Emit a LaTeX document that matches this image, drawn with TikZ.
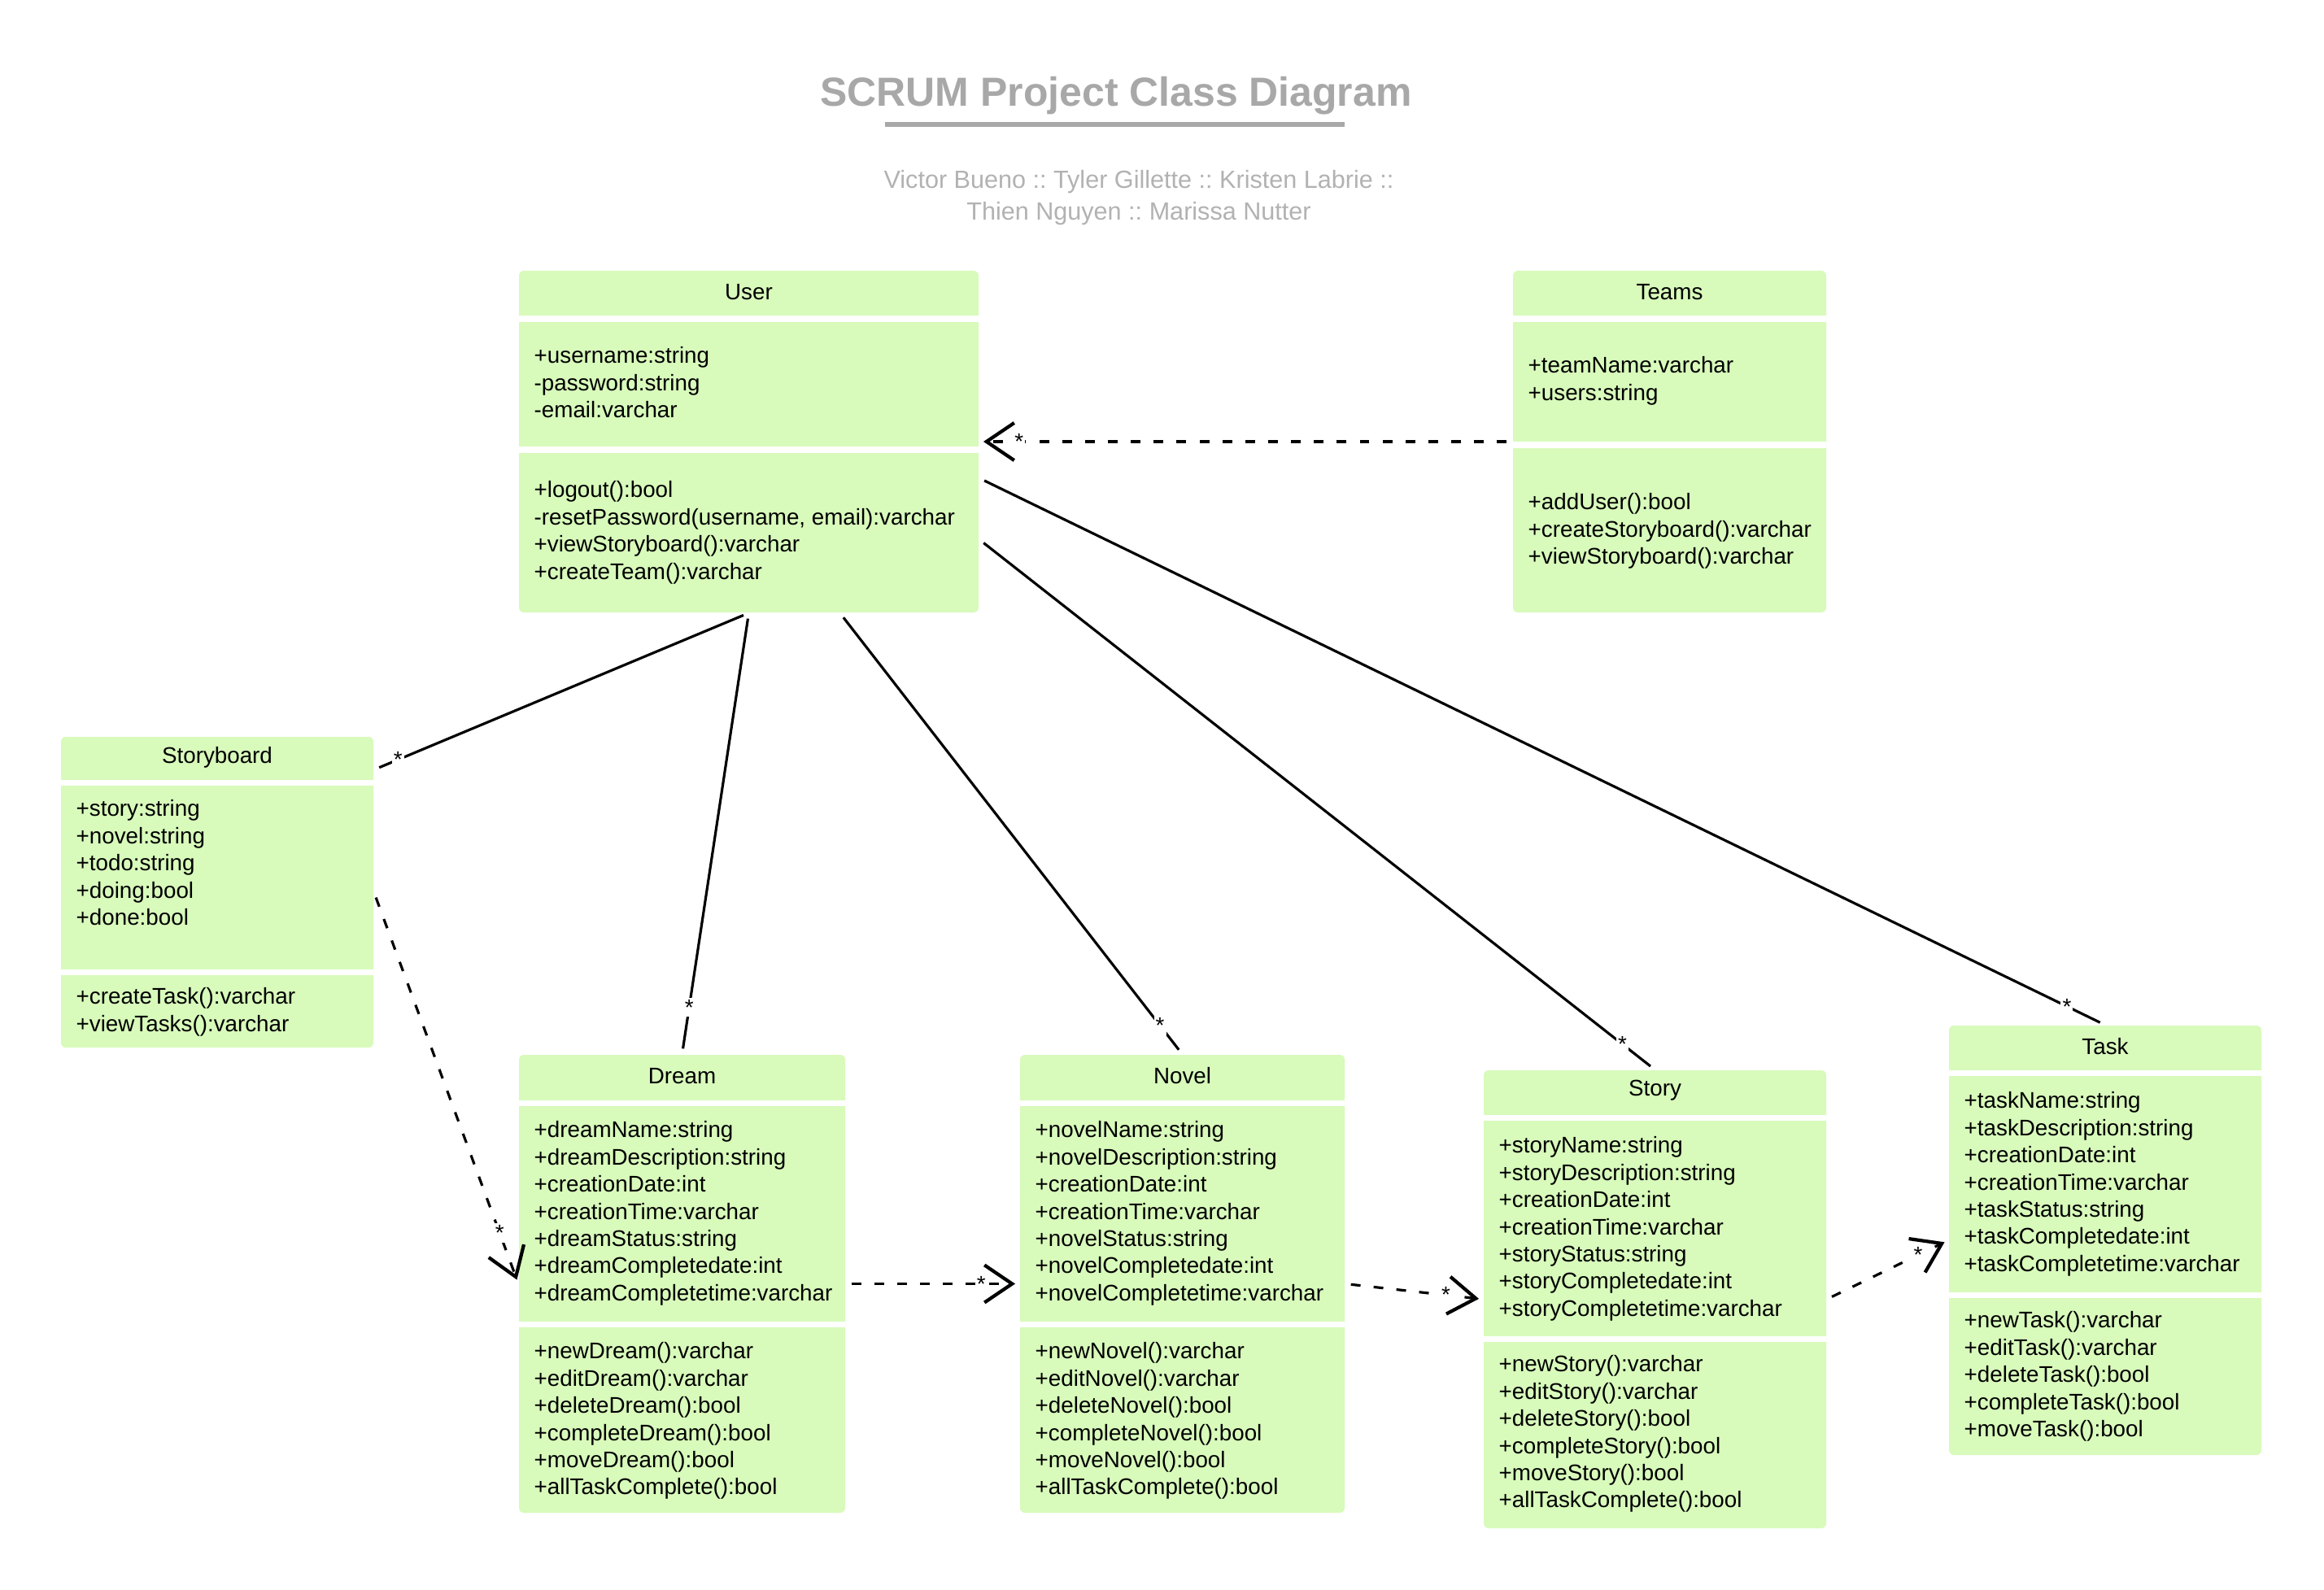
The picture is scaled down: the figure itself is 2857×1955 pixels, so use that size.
\documentclass[tikz,border=0pt]{standalone}
\usepackage{fontspec}
\setmainfont{Liberation Sans}
\usepackage{xcolor}
\usepackage{tikz}
\usetikzlibrary{arrows.meta, fit, calc}

\definecolor{boxgreen}{RGB}{216,250,187}
\definecolor{titlegray}{RGB}{168,168,168}
\definecolor{subgray}{RGB}{178,178,178}

\frenchspacing

\begin{document}
\begin{tikzpicture}[x=0.01cm, y=-0.01cm,
    umlclass/.style={rectangle, fill=boxgreen, rounded corners=1.7pt, inner sep=0pt},
    gap/.style={draw=white, line width=0.07cm},
    classname/.style={inner sep=0pt, font=\fontsize{7.9}{9.5}\selectfont},
    members/.style={anchor=north west, align=left, inner sep=0pt, font=\fontsize{7.9}{9.5}\selectfont},
    mult/.style={fill=white, inner sep=0.6pt, font=\fontsize{7.9}{9.5}\selectfont},
    assoc/.style={draw, line width=0.9pt, shorten <=2pt, shorten >=2pt},
    depend/.style={draw, line width=0.9pt, dash pattern=on 3.4pt off 4.6pt, shorten <=2pt, shorten >=1.5pt,
        -{Straight Barb[length=3.4mm, width=4.6mm, line width=1.2pt]}}]

    \path[fill=white] (0,0) rectangle (2857,1955);
    \useasboundingbox (0,0) rectangle (2857,1955);

    % title and authors
    \node[font=\fontsize{14.2}{17}\selectfont\bfseries, text=titlegray] (title) at (1372,118) {SCRUM Project Class Diagram};
    \draw[titlegray, line width=0.06cm] (1088,153) -- (1653,153);
    \node[align=center, font=\fontsize{8.7}{11.1}\selectfont, text=subgray] (authors) at (1400,243)
        {Victor Bueno :: Tyler Gillette :: Kristen Labrie ::\\Thien Nguyen :: Marissa Nutter};

    % class boxes
    \node[umlclass, fit={(638,333) (1203,753)}] (user) {};
    \node[umlclass, fit={(1860,333) (2245,753)}] (teams) {};
    \node[umlclass, fit={(75,906) (459,1288)}] (storyboard) {};
    \node[umlclass, fit={(638,1297) (1039,1860)}] (dream) {};
    \node[umlclass, fit={(1254,1297) (1653,1860)}] (novel) {};
    \node[umlclass, fit={(1824,1316) (2245,1879)}] (story) {};
    \node[umlclass, fit={(2396,1261) (2780,1789)}] (task) {};

    % compartment gaps
    \draw[gap] (638,392) -- (1203,392);
    \draw[gap] (638,553) -- (1203,553);
    \draw[gap] (1860,392) -- (2245,392);
    \draw[gap] (1860,547) -- (2245,547);
    \draw[gap] (75,962) -- (459,962);
    \draw[gap] (75,1195) -- (459,1195);
    \draw[gap] (638,1356) -- (1039,1356);
    \draw[gap] (638,1628) -- (1039,1628);
    \draw[gap] (1254,1356) -- (1653,1356);
    \draw[gap] (1254,1628) -- (1653,1628);
    \draw[gap] (1824,1374) -- (2245,1374);
    \draw[gap] (1824,1646) -- (2245,1646);
    \draw[gap] (2396,1319) -- (2780,1319);
    \draw[gap] (2396,1592) -- (2780,1592);

    % User
    \node[classname] (user-name) at (920.5,359) {User};
    \node[members] (user-attr) at (656,426) {+username:string\\-password:string\\-email:varchar};
    \node[members] (user-ops) at (656,591) {+logout():bool\\-resetPassword(username, email):varchar\\+viewStoryboard():varchar\\+createTeam():varchar};

    % Teams
    \node[classname] (teams-name) at (2052.5,359) {Teams};
    \node[members] (teams-attr) at (1878,438) {+teamName:varchar\\+users:string};
    \node[members] (teams-ops) at (1878,606) {+addUser():bool\\+createStoryboard():varchar\\+viewStoryboard():varchar};

    % Storyboard
    \node[classname] (storyboard-name) at (267,931) {Storyboard};
    \node[members] (storyboard-attr) at (93,983) {+story:string\\+novel:string\\+todo:string\\+doing:bool\\+done:bool};
    \node[members] (storyboard-ops) at (93,1214) {+createTask():varchar\\+viewTasks():varchar};

    % Dream
    \node[classname] (dream-name) at (838.5,1323) {Dream};
    \node[members] (dream-attr) at (656,1378) {+dreamName:string\\+dreamDescription:string\\+creationDate:int\\+creationTime:varchar\\+dreamStatus:string\\+dreamCompletedate:int\\+dreamCompletetime:varchar};
    \node[members] (dream-ops) at (656,1650) {+newDream():varchar\\+editDream():varchar\\+deleteDream():bool\\+completeDream():bool\\+moveDream():bool\\+allTaskComplete():bool};

    % Novel
    \node[classname] (novel-name) at (1453.5,1323) {Novel};
    \node[members] (novel-attr) at (1272,1378) {+novelName:string\\+novelDescription:string\\+creationDate:int\\+creationTime:varchar\\+novelStatus:string\\+novelCompletedate:int\\+novelCompletetime:varchar};
    \node[members] (novel-ops) at (1272,1650) {+newNovel():varchar\\+editNovel():varchar\\+deleteNovel():bool\\+completeNovel():bool\\+moveNovel():bool\\+allTaskComplete():bool};

    % Story
    \node[classname] (story-name) at (2034.5,1341) {Story};
    \node[members] (story-attr) at (1842,1397) {+storyName:string\\+storyDescription:string\\+creationDate:int\\+creationTime:varchar\\+storyStatus:string\\+storyCompletedate:int\\+storyCompletetime:varchar};
    \node[members] (story-ops) at (1842,1666) {+newStory():varchar\\+editStory():varchar\\+deleteStory():bool\\+completeStory():bool\\+moveStory():bool\\+allTaskComplete():bool};

    % Task
    \node[classname] (task-name) at (2588,1287) {Task};
    \node[members] (task-attr) at (2414,1342) {+taskName:string\\+taskDescription:string\\+creationDate:int\\+creationTime:varchar\\+taskStatus:string\\+taskCompletedate:int\\+taskCompletetime:varchar};
    \node[members] (task-ops) at (2414,1612) {+newTask():varchar\\+editTask():varchar\\+deleteTask():bool\\+completeTask():bool\\+moveTask():bool};

    % associations
    \path[assoc] (user.south) -- node[mult, pos=0.936] {*} (storyboard.38);
    \path[assoc] (user.south) -- node[mult, pos=0.894] {*} (dream.north);
    \path[assoc] (user.-62) -- node[mult, pos=0.935] {*} (novel.north);
    \path[assoc] (user.-23.4) -- node[mult, pos=0.952] {*} (story.north);
    \path[assoc] (user.-9.4) -- node[mult, pos=0.966] {*} (task.north);

    % dependencies
    \path[depend] (teams.west) -- node[mult, pos=0.925] {*} (user.east);
    \path[depend] (storyboard.east) -- node[mult, pos=0.87] {*} (dream.west);
    \path[depend] (dream.east) -- node[mult, pos=0.78] {*} (novel.west);
    \path[depend] (novel.east) -- node[mult, pos=0.73] {*} (story.west);
    \path[depend] (story.east) -- node[mult, pos=0.75] {*} (task.west);
\end{tikzpicture}
\end{document}
